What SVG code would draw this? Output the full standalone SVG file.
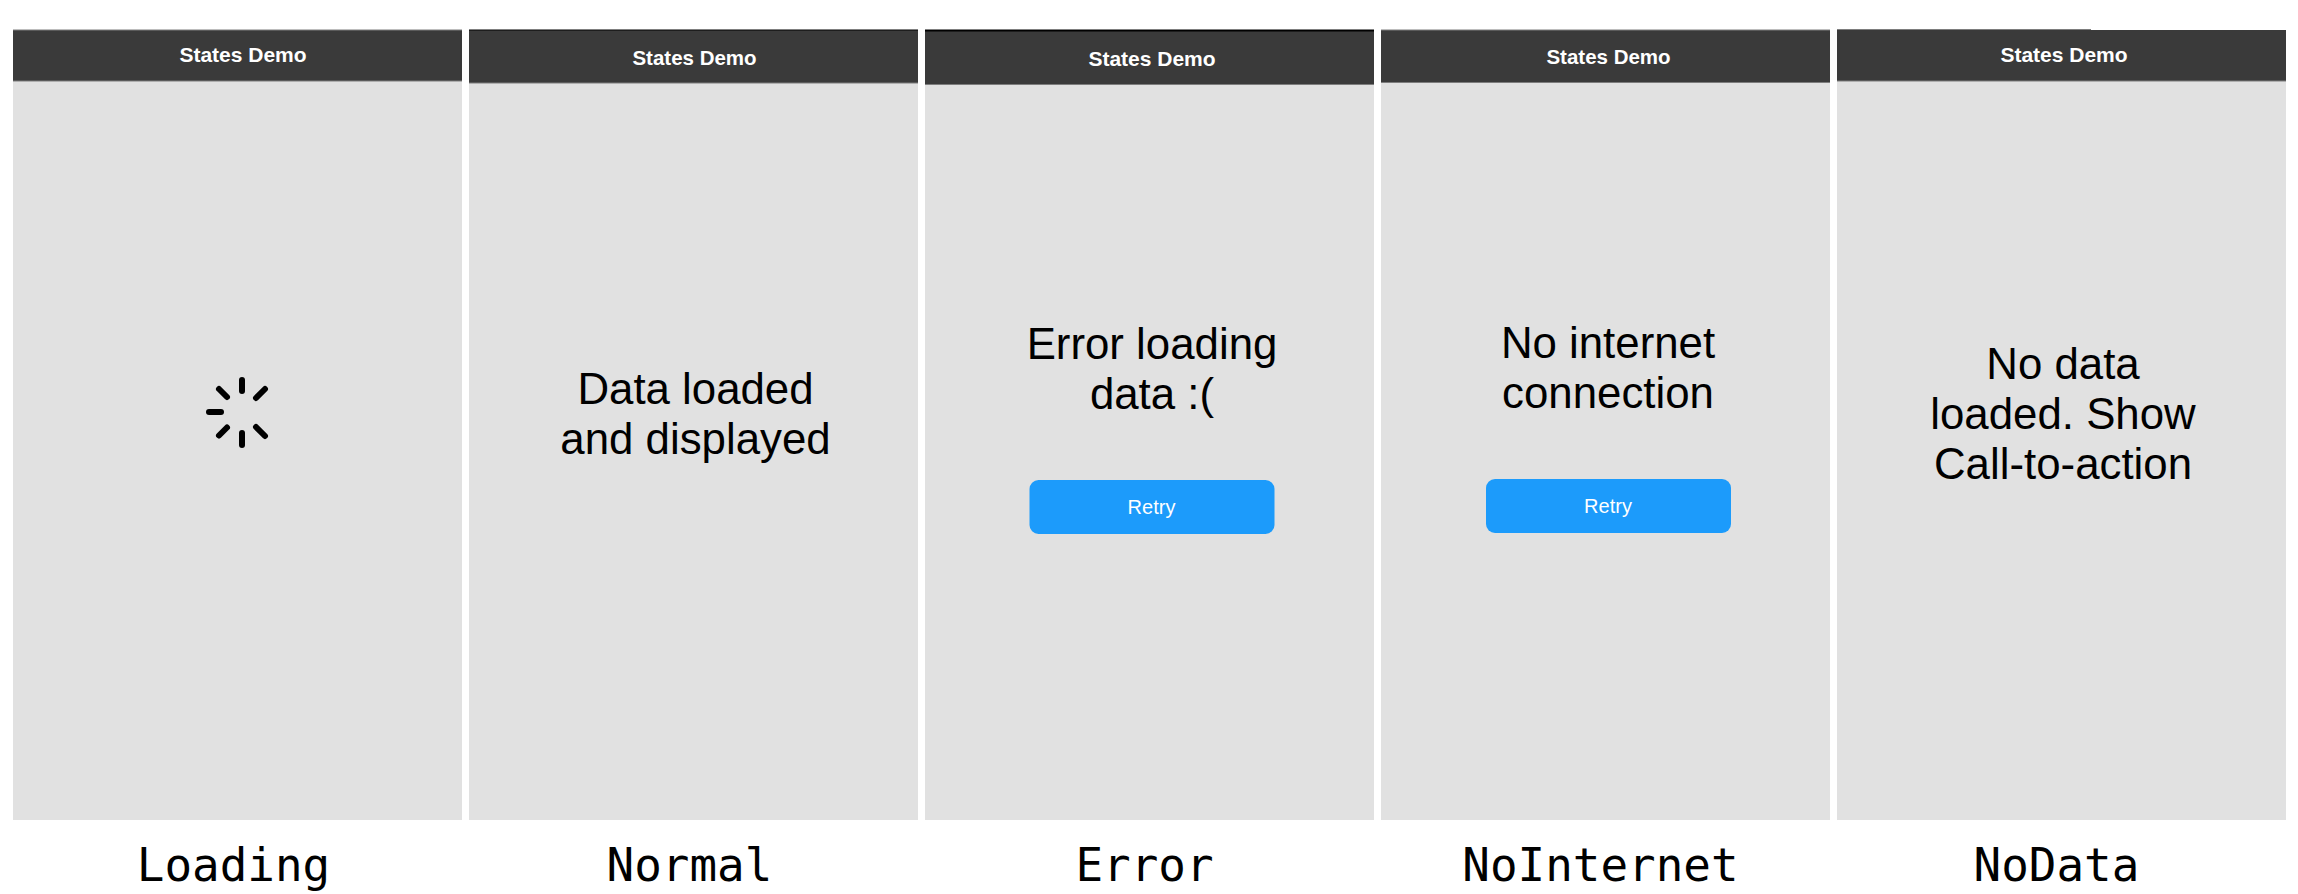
<svg xmlns="http://www.w3.org/2000/svg" width="2298" height="894" viewBox="0 0 2298 894">
<style>
.body{fill:#e1e1e1}
.bar{fill:#3a3a3a}
.edge{fill:#7d7d7d}
.top{fill:#000}
.title{font:bold 21px "Liberation Sans",Arial,sans-serif;fill:#fff;text-anchor:middle}
.msg{font:43.8px "Liberation Sans",Arial,sans-serif;fill:#000;text-anchor:middle}
.btn{fill:#1c9bfb}
.btxt{font:20px "Liberation Sans",Arial,sans-serif;fill:#fff;text-anchor:middle}
.lab{font:45.9px "DejaVu Sans Mono",monospace;fill:#000;text-anchor:middle}
.tick{stroke:#000;stroke-width:6;stroke-linecap:round}
</style>
<rect width="2298" height="894" fill="#fff"/>
<g id="loading">
<rect class="body" x="13" y="30" width="449" height="790"/>
<rect class="bar" x="13" y="30" width="449" height="51"/>
<rect class="edge" x="13" y="29.500" width="449" height="1"/>
<rect class="edge" x="13" y="80.500" width="449" height="1"/>
<text class="title" x="243" y="62">States Demo</text>
<g id="spinner" class="tick">
<line x1="242" y1="380" x2="242" y2="391"/>
<line x1="242" y1="433" x2="242" y2="445"/>
<line x1="209" y1="412" x2="221" y2="412"/>
<line x1="219" y1="389" x2="227" y2="397"/>
<line x1="256" y1="398" x2="265" y2="389"/>
<line x1="219" y1="435.500" x2="227" y2="427.500"/>
<line x1="256" y1="427" x2="265" y2="436"/>
</g>
<text class="lab" x="233.500" y="881">Loading</text>
</g>
<g id="normal">
<rect class="body" x="469" y="30" width="449" height="790"/>
<rect class="bar" x="469" y="30" width="449" height="53"/>
<rect class="top" x="469" y="29.500" width="449" height="1"/>
<rect class="edge" x="469" y="82.500" width="449" height="1"/>
<text class="title" x="694.500" y="64.500" style="font-size:20.500px">States Demo</text>
<text class="msg" x="695.500" y="404">Data loaded</text>
<text class="msg" x="695.500" y="454">and displayed</text>
<text class="lab" x="689.500" y="881">Normal</text>
</g>
<g id="error">
<rect class="body" x="925" y="30" width="449" height="790"/>
<rect class="bar" x="925" y="30" width="449" height="55"/>
<rect class="top" x="925" y="29.500" width="449" height="2"/>
<rect class="edge" x="925" y="84" width="449" height="1"/>
<text class="title" x="1152" y="65.700">States Demo</text>
<text class="msg" x="1152" y="359">Error loading</text>
<text class="msg" x="1152" y="409">data :(</text>
<rect class="btn" x="1029.500" y="480" width="245" height="54" rx="9"/>
<text class="btxt" x="1151.500" y="514">Retry</text>
<text class="lab" x="1144.500" y="881">Error</text>
</g>
<g id="nointernet">
<rect class="body" x="1381" y="30" width="449" height="790"/>
<rect class="bar" x="1381" y="30" width="449" height="53"/>
<rect class="edge" x="1381" y="29.500" width="449" height="1"/>
<rect class="edge" x="1381" y="82" width="449" height="1"/>
<text class="title" x="1608.500" y="63.700" style="font-size:20.500px">States Demo</text>
<text class="msg" x="1608" y="358">No internet</text>
<text class="msg" x="1608" y="408">connection</text>
<rect class="btn" x="1486" y="479" width="245" height="54" rx="9"/>
<text class="btxt" x="1608" y="513">Retry</text>
<text class="lab" x="1600.500" y="881">NoInternet</text>
</g>
<g id="nodata">
<rect class="body" x="1837" y="30" width="449" height="790"/>
<rect class="bar" x="1837" y="30" width="449" height="51"/>
<rect class="edge" x="1837" y="29" width="254" height="1"/>
<rect class="edge" x="1837" y="80.500" width="449" height="1"/>
<text class="title" x="2064" y="62">States Demo</text>
<text class="msg" x="2063" y="379">No data</text>
<text class="msg" x="2063" y="429">loaded. Show</text>
<text class="msg" x="2063" y="479">Call-to-action</text>
<text class="lab" x="2056.500" y="881">NoData</text>
</g>
</svg>
